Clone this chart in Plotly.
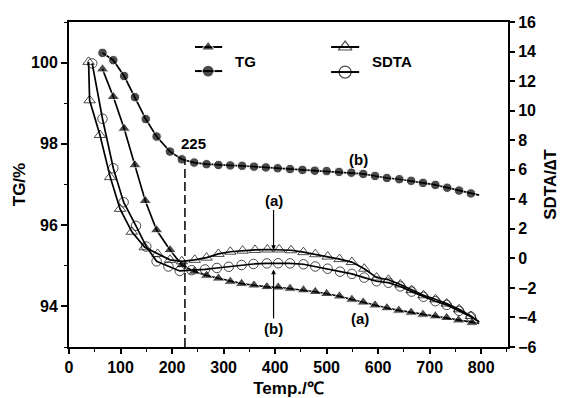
import numpy as np
import plotly.graph_objects as go

# ---------------- data ----------------
tg_a_x = [65, 86, 107, 128, 148, 170, 196, 219, 243, 267, 290, 313, 335, 359, 384, 406,
          429, 455, 478, 500, 525, 549, 571, 594, 617, 640, 664, 687, 711, 733, 756, 782, 796]
tg_a_y = [99.84, 99.16, 98.38, 97.48, 96.6, 95.88, 95.39, 95.02, 94.86, 94.76, 94.69, 94.61,
          94.56, 94.52, 94.48, 94.47, 94.44, 94.40, 94.36, 94.31, 94.25, 94.17, 94.10, 94.03,
          93.96, 93.90, 93.85, 93.80, 93.76, 93.72, 93.66, 93.60, 93.58]

tg_b_x = [65, 86, 107, 128, 149, 170, 196, 219, 243, 267, 290, 313, 336, 359, 382, 405,
          429, 453, 477, 500, 524, 548, 571, 594, 617, 641, 664, 687, 711, 734, 757, 780, 796]
tg_b_y = [100.24, 100.06, 99.67, 99.15, 98.61, 98.18, 97.81, 97.62, 97.54, 97.50, 97.48,
          97.47, 97.46, 97.44, 97.42, 97.40, 97.38, 97.36, 97.34, 97.33, 97.31, 97.29, 97.26,
          97.21, 97.16, 97.13, 97.09, 97.04, 96.99, 96.92, 96.85, 96.78, 96.74]

sdta_a_x = [38, 40, 60, 80, 99, 122, 147, 172, 196, 219, 244, 267, 290, 313, 337, 361, 385,
            408, 431, 455, 478, 502, 525, 549, 573, 597, 620, 643, 665, 688, 711, 733, 757,
            780, 796]
sdta_a_y = [13.3, 10.7, 8.35, 5.5, 3.35, 1.8, 0.75, 0.3, -0.1, -0.2, -0.1, 0.05, 0.3, 0.45,
            0.52, 0.57, 0.6, 0.6, 0.55, 0.42, 0.28, 0.12, -0.05, -0.25, -0.7, -1.3, -1.45,
            -1.77, -2.15, -2.5, -2.77, -3.06, -3.45, -3.9, -4.3]

sdta_b_x = [45, 65, 86, 106, 130, 150, 170, 193, 215, 238, 264, 287, 310, 335, 358, 384, 406,
            429, 455, 478, 502, 526, 549, 573, 597, 620, 643, 665, 688, 711, 733, 757, 780, 796]
sdta_b_y = [13.2, 9.45, 6.1, 3.8, 2.2, 0.8, -0.2, -0.55, -0.85, -0.8, -0.75, -0.65, -0.57,
            -0.45, -0.38, -0.34, -0.33, -0.34, -0.4, -0.55, -0.7, -0.9, -1.05, -1.3, -1.55,
            -1.65, -1.9, -2.25, -2.6, -2.9, -3.15, -3.55, -3.95, -4.3]

onset_temp = 225
x_ticks = [0, 100, 200, 300, 400, 500, 600, 700, 800]
yl_ticks = [94, 96, 98, 100]
yr_ticks = [-6, -4, -2, 0, 2, 4, 6, 8, 10, 12, 14, 16]

FONT = "Liberation Sans, Arial, sans-serif"
BLACK = "#000000"


def sizes(n, s):
    # last point is only the end of the drawn line, without a marker
    return [s] * (n - 1) + [0]


fig = go.Figure()

fig.add_trace(go.Scatter(x=tg_a_x, y=tg_a_y, mode="lines+markers",
                         line=dict(color=BLACK, width=1.7),
                         marker=dict(symbol="triangle-up", size=sizes(len(tg_a_x), 11),
                                     color=BLACK),
                         showlegend=False))
fig.add_trace(go.Scatter(x=tg_b_x, y=tg_b_y, mode="lines+markers",
                         line=dict(color=BLACK, width=1.7),
                         marker=dict(symbol="circle", size=sizes(len(tg_b_x), 9.5), color=BLACK),
                         showlegend=False))
fig.add_trace(go.Scatter(x=sdta_a_x, y=sdta_a_y, mode="lines+markers", yaxis="y2",
                         line=dict(color=BLACK, width=1.7),
                         marker=dict(symbol="triangle-up-open", size=sizes(len(sdta_a_x), 10),
                                     color=BLACK, line=dict(width=1)),
                         showlegend=False))
fig.add_trace(go.Scatter(x=sdta_b_x, y=sdta_b_y, mode="lines+markers", yaxis="y2",
                         line=dict(color=BLACK, width=1.7),
                         marker=dict(symbol="circle-open", size=sizes(len(sdta_b_x), 9.5),
                                     color=BLACK, line=dict(width=1)),
                         showlegend=False))

# custom legend glyphs on an invisible overlay axis (0..1)
leg = [
    ([0.287, 0.317, 0.349], 0.923, "triangle-up", 12),
    ([0.287, 0.317, 0.349], 0.849, "circle", 12),
    ([0.597, 0.629, 0.661], 0.923, "triangle-up-open", 12),
    ([0.597, 0.629, 0.661], 0.846, "circle-open", 12),
]
for xs, yy, sym, sz in leg:
    fig.add_trace(go.Scatter(x=xs, y=[yy] * 3, mode="lines+markers", xaxis="x3", yaxis="y3",
                             line=dict(color=BLACK, width=2),
                             marker=dict(symbol=sym, size=[0, sz, 0], color=BLACK,
                                         line=dict(width=1.2)),
                             showlegend=False, hoverinfo="skip"))

onset_y = float(np.interp(onset_temp, tg_b_x, tg_b_y))
fig.add_shape(type="line", x0=onset_temp, x1=onset_temp, y0=93, y1=onset_y,
              xref="x", yref="y", line=dict(color=BLACK, width=1.5, dash="9px,4px"))


def ann(text, x, y, yref="y", size=15):
    fig.add_annotation(text=f"<b>{text}</b>", x=x, y=y, xref="x", yref=yref,
                       xanchor="center", yanchor="middle",
                       showarrow=False, font=dict(family=FONT, size=size, color=BLACK))


ann(str(onset_temp), 241, 98.0)
ann("(b)", 562, 97.62)
ann("(a)", 564, 93.71)

fig.add_annotation(text="<b>(a)</b>", x=397, y=0.56, xref="x", yref="y2",
                   ax=0, ay=-50, showarrow=True, arrowhead=2, arrowsize=0.8,
                   arrowwidth=1.2, arrowcolor=BLACK,
                   font=dict(family=FONT, size=15, color=BLACK))
fig.add_annotation(text="<b>(b)</b>", x=397, y=-0.75, xref="x", yref="y2",
                   ax=0, ay=59, showarrow=True, arrowhead=2, arrowsize=0.8,
                   arrowwidth=1.2, arrowcolor=BLACK,
                   font=dict(family=FONT, size=15, color=BLACK))

fig.add_annotation(text="<b>TG</b>", x=0.401, y=0.877, xref="paper", yref="paper",
                   xanchor="center", yanchor="middle",
                   showarrow=False, font=dict(family=FONT, size=15, color=BLACK))
fig.add_annotation(text="<b>SDTA</b>", x=0.736, y=0.877, xref="paper", yref="paper",
                   xanchor="center", yanchor="middle",
                   showarrow=False, font=dict(family=FONT, size=15, color=BLACK))

tickfont = dict(family=FONT, size=16, color=BLACK, weight="bold")
titlefont = dict(family=FONT, size=17, color=BLACK, weight="bold")

fig.update_layout(
    width=561, height=398,
    margin=dict(l=69, r=53, t=22, b=51, autoexpand=False),
    paper_bgcolor="white", plot_bgcolor="white",
    font=dict(family=FONT, color=BLACK),
    xaxis=dict(range=[0, 852], tickvals=x_ticks, ticks="outside", ticklen=5, tickwidth=1.5,
               tickcolor=BLACK, showline=True, linecolor=BLACK, linewidth=2, mirror=True,
               showgrid=False, zeroline=False, tickfont=tickfont, automargin=False,
               minor=dict(dtick=50, ticks="outside", ticklen=3, tickwidth=1.2, tickcolor=BLACK,
                          tick0=0),
               title=dict(text="Temp./℃", font=titlefont, standoff=10)),
    yaxis=dict(range=[93, 101], tickvals=yl_ticks, ticks="outside", ticklen=6, tickwidth=1.5,
               tickcolor=BLACK, showline=True, linecolor=BLACK, linewidth=2,
               showgrid=False, zeroline=False, tickfont=tickfont, automargin=False,
               minor=dict(dtick=1, ticks="outside", ticklen=3, tickwidth=1.2, tickcolor=BLACK),
               title=dict(text="TG/%", font=titlefont, standoff=1)),
    yaxis2=dict(range=[-6, 16], tickvals=yr_ticks, overlaying="y", side="right",
                ticks="outside", ticklen=5, tickwidth=1.5, tickcolor=BLACK, automargin=False,
                showline=True, linecolor=BLACK, linewidth=2, showgrid=False, zeroline=False,
                tickfont=tickfont, title=dict(text="SDTA/∆T", font=titlefont, standoff=9)),
    xaxis3=dict(range=[0, 1], overlaying="x", visible=False, fixedrange=True),
    yaxis3=dict(range=[0, 1], overlaying="y", visible=False, fixedrange=True, anchor="x3"),
)

fig.write_html("out.html")
